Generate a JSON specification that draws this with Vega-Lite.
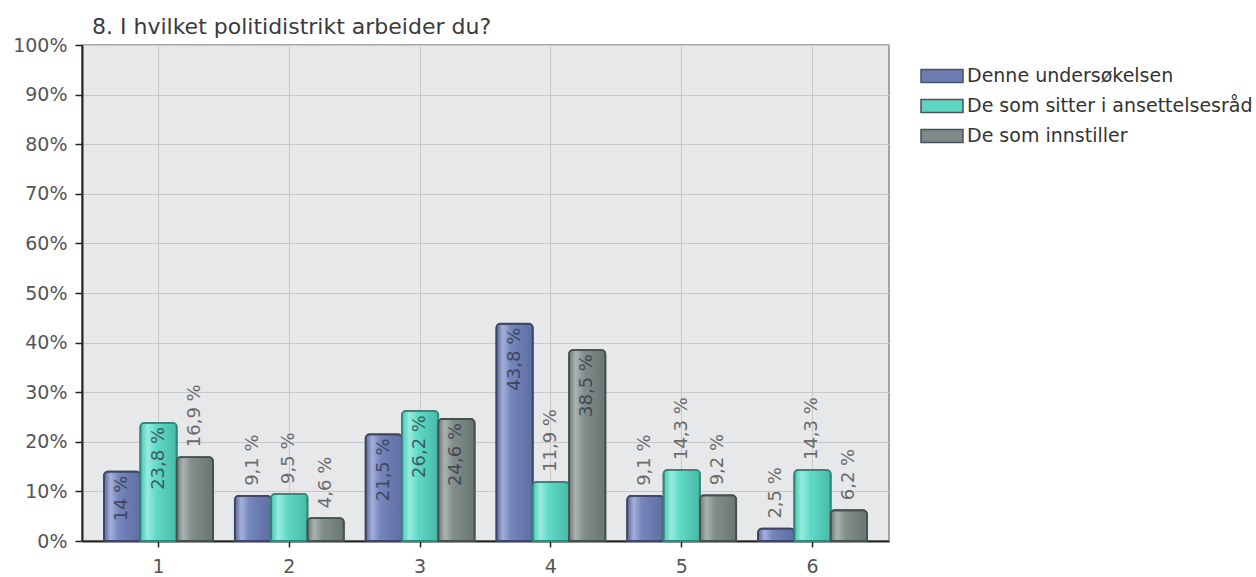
{
  "$schema": "https://vega.github.io/schema/vega-lite/v6.json",
  "autosize": {"type": "none"},
  "padding": {"left": 82, "top": 45, "right": 367, "bottom": 36},
  "width": 807,
  "height": 496,
  "background": "white",
  "title": {
    "text": "8. I hvilket politidistrikt arbeider du?",
    "anchor": "start",
    "frame": "group",
    "dx": 10,
    "offset": 0,
    "dy": 3,
    "font": "DejaVu Sans",
    "fontSize": 22,
    "fontWeight": "normal",
    "color": "#3a3a3a"
  },
  "config": {
    "view": {"fill": "#e6e8ea", "stroke": "#8c8c8c", "strokeWidth": 1.5},
    "font": "DejaVu Sans"
  },
  "data": {
    "values": [
      {"district": "1", "series": "Denne undersøkelsen", "value": 14, "label": "14 %"},
      {"district": "1", "series": "De som sitter i ansettelsesråd", "value": 23.8, "label": "23,8 %"},
      {"district": "1", "series": "De som innstiller", "value": 16.9, "label": "16,9 %"},
      {"district": "2", "series": "Denne undersøkelsen", "value": 9.1, "label": "9,1 %"},
      {"district": "2", "series": "De som sitter i ansettelsesråd", "value": 9.5, "label": "9,5 %"},
      {"district": "2", "series": "De som innstiller", "value": 4.6, "label": "4,6 %"},
      {"district": "3", "series": "Denne undersøkelsen", "value": 21.5, "label": "21,5 %"},
      {"district": "3", "series": "De som sitter i ansettelsesråd", "value": 26.2, "label": "26,2 %"},
      {"district": "3", "series": "De som innstiller", "value": 24.6, "label": "24,6 %"},
      {"district": "4", "series": "Denne undersøkelsen", "value": 43.8, "label": "43,8 %"},
      {"district": "4", "series": "De som sitter i ansettelsesråd", "value": 11.9, "label": "11,9 %"},
      {"district": "4", "series": "De som innstiller", "value": 38.5, "label": "38,5 %"},
      {"district": "5", "series": "Denne undersøkelsen", "value": 9.1, "label": "9,1 %"},
      {"district": "5", "series": "De som sitter i ansettelsesråd", "value": 14.3, "label": "14,3 %"},
      {"district": "5", "series": "De som innstiller", "value": 9.2, "label": "9,2 %"},
      {"district": "6", "series": "Denne undersøkelsen", "value": 2.5, "label": "2,5 %"},
      {"district": "6", "series": "De som sitter i ansettelsesråd", "value": 14.3, "label": "14,3 %"},
      {"district": "6", "series": "De som innstiller", "value": 6.2, "label": "6,2 %"}
    ]
  },
  "encoding": {
    "x": {
      "field": "district",
      "type": "nominal",
      "scale": {"paddingInner": 0, "paddingOuter": 0.085},
      "axis": {
        "title": null,
        "labelAngle": 0,
        "labelFontSize": 19,
        "labelColor": "#555555",
        "labelPadding": 10,
        "tickSize": 6,
        "tickColor": "#222222",
        "tickWidth": 1.5,
        "domainColor": "#222222",
        "domainWidth": 2,
        "grid": true,
        "gridColor": "#c6c8ca",
        "gridWidth": 1
      }
    },
    "xOffset": {
      "field": "series",
      "type": "nominal",
      "scale": {
        "domain": ["Denne undersøkelsen", "De som sitter i ansettelsesråd", "De som innstiller"],
        "paddingOuter": 0.3,
        "paddingInner": 0
      }
    },
    "y": {
      "field": "value",
      "type": "quantitative",
      "scale": {"domain": [0, 100], "nice": false},
      "axis": {
        "title": null,
        "values": [0, 10, 20, 30, 40, 50, 60, 70, 80, 90, 100],
        "labelExpr": "datum.value + '%'",
        "labelFontSize": 19,
        "labelColor": "#555555",
        "labelPadding": 8,
        "tickSize": 7,
        "tickColor": "#222222",
        "tickWidth": 1.5,
        "domainColor": "#222222",
        "domainWidth": 2,
        "gridColor": "#c6c8ca",
        "gridWidth": 1
      }
    }
  },
  "layer": [
    {
      "mark": {"type": "bar", "cornerRadiusTopLeft": 4, "cornerRadiusTopRight": 4, "strokeWidth": 1.5, "stroke": "#444444"},
      "encoding": {
        "color": {
          "field": "series",
          "type": "nominal",
          "scale": {
            "domain": ["Denne undersøkelsen", "De som sitter i ansettelsesråd", "De som innstiller"],
            "range": ["#6b7cb0", "#5cd6c3", "#7d8a87"]
          },
          "legend": {
            "title": null,
            "orient": "none",
            "legendX": 849,
            "legendY": 20,
            "symbolType": "M-2.1,-0.65H2.1V0.65H-2.1Z",
            "symbolSize": 400,
            "symbolStrokeColor": "#4a5260",
            "symbolStrokeWidth": 1.5,
            "symbolOpacity": 1,
            "labelFontSize": 19,
            "labelColor": "#333333",
            "labelOffset": 14,
            "rowPadding": 9,
            "labelLimit": 400
          }
        }
      }
    },
    {
      "transform": [{"filter": "datum.series == 'Denne undersøkelsen'"}],
      "mark": {
        "type": "bar", "cornerRadiusTopLeft": 4, "cornerRadiusTopRight": 4,
        "stroke": "#3b4668", "strokeWidth": 1.8,
        "fill": {"gradient": "linear", "x1": 0, "x2": 1, "y1": 0, "y2": 0,
          "stops": [{"offset": 0, "color": "#5a689a"}, {"offset": 0.18, "color": "#a4b0da"}, {"offset": 0.4, "color": "#7586bc"}, {"offset": 1, "color": "#5e6da2"}]}
      }
    },
    {
      "transform": [{"filter": "datum.series == 'De som sitter i ansettelsesråd'"}],
      "mark": {
        "type": "bar", "cornerRadiusTopLeft": 4, "cornerRadiusTopRight": 4,
        "stroke": "#2e8a7c", "strokeWidth": 1.8,
        "fill": {"gradient": "linear", "x1": 0, "x2": 1, "y1": 0, "y2": 0,
          "stops": [{"offset": 0, "color": "#4cc4b1"}, {"offset": 0.2, "color": "#95ecdf"}, {"offset": 0.45, "color": "#5fd8c5"}, {"offset": 1, "color": "#47bba8"}]}
      }
    },
    {
      "transform": [{"filter": "datum.series == 'De som innstiller'"}],
      "mark": {
        "type": "bar", "cornerRadiusTopLeft": 4, "cornerRadiusTopRight": 4,
        "stroke": "#46504e", "strokeWidth": 1.8,
        "fill": {"gradient": "linear", "x1": 0, "x2": 1, "y1": 0, "y2": 0,
          "stops": [{"offset": 0, "color": "#6c7875"}, {"offset": 0.18, "color": "#aab3b0"}, {"offset": 0.42, "color": "#818d8a"}, {"offset": 1, "color": "#6a7673"}]}
      }
    },
    {
      "transform": [{"filter": "datum.value >= 20 || datum.label == '14 %'"}],
      "mark": {"type": "text", "angle": 270, "align": "right", "baseline": "middle", "dx": -4, "fontSize": 18, "color": "#2f3340", "opacity": 0.75},
      "encoding": {"text": {"field": "label"}}
    },
    {
      "transform": [{"filter": "!(datum.value >= 20 || datum.label == '14 %')"}],
      "mark": {"type": "text", "angle": 270, "align": "left", "baseline": "middle", "dx": 10, "fontSize": 18, "color": "#6a6a6a"},
      "encoding": {"text": {"field": "label"}}
    }
  ]
}
